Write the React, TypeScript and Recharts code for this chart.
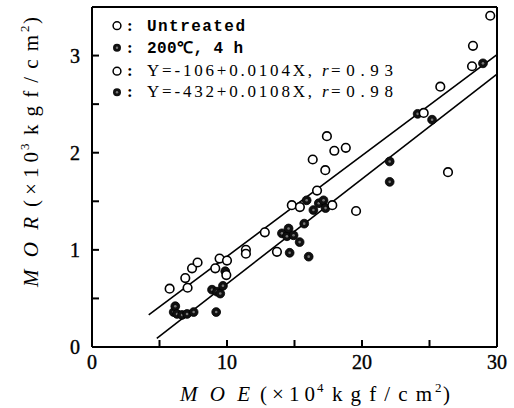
import React from 'react';
import { ScatterChart, Scatter, XAxis, YAxis, ReferenceLine } from 'recharts';

// MOE (x10^4 kgf/cm2) and MOR (x10^3 kgf/cm2)
const untreatedX = [5.75, 6.91, 7.08, 7.41, 7.82, 9.13, 9.45, 10.0, 9.95, 11.4, 11.4, 12.8, 13.7, 14.8, 15.4, 16.35, 16.67, 17.28, 17.4, 17.8, 17.95, 18.8, 19.56, 24.57, 25.8, 26.37, 28.15, 28.22, 29.5];
const untreatedY = [0.60, 0.71, 0.61, 0.81, 0.87, 0.81, 0.91, 0.89, 0.74, 1.00, 0.96, 1.18, 0.98, 1.46, 1.44, 1.93, 1.61, 1.82, 2.17, 1.46, 2.02, 2.05, 1.40, 2.41, 2.68, 1.80, 2.89, 3.10, 3.41];
const treatedX = [6.05, 6.17, 6.3, 6.67, 7.04, 7.53, 9.2, 8.89, 9.26, 9.5, 9.7, 9.87, 14.07, 14.44, 14.56, 14.93, 14.64, 15.38, 15.72, 15.9, 16.05, 16.4, 16.8, 17.15, 17.3, 22.05, 22.05, 24.12, 25.19, 28.96];
const treatedY = [0.36, 0.42, 0.34, 0.33, 0.34, 0.36, 0.36, 0.59, 0.57, 0.55, 0.63, 0.78, 1.17, 1.14, 1.22, 1.15, 0.97, 1.08, 1.27, 1.51, 0.93, 1.41, 1.48, 1.51, 1.43, 1.91, 1.70, 2.40, 2.34, 2.92];

// Regression lines (end points)
const fitUntreatedX = [4.2, 30];
const fitUntreatedY = [0.33, 3.01];
const fitTreatedX = [4.8, 30];
const fitTreatedY = [0.09, 2.81];

const xTicks = [0, 5, 10, 15, 20, 25, 30];
const yTicks = [0, 0.5, 1, 1.5, 2, 2.5, 3];
const xLabeled = [0, 10, 20, 30];
const yLabeled = [0, 1, 2, 3];

const legendNames = ['Untreated', '200\u2103, 4 h'];
const legendEqs = ['Y=-106+0.0104X,', 'Y=-432+0.0108X,'];
const legendR = ['=0.93', '=0.98'];

const toPts = (xs: number[], ys: number[]) => xs.map((x, i) => ({ x, y: ys[i] }));
const untreated = toPts(untreatedX, untreatedY);
const treated = toPts(treatedX, treatedY);
const fitU = toPts(fitUntreatedX, fitUntreatedY);
const fitT = toPts(fitTreatedX, fitTreatedY);

const serif = 'Liberation Serif';
const mono = 'Liberation Mono';

const OpenDot = (p: any) => (
  <circle cx={p.cx} cy={p.cy} r={4.3} fill="#fff" stroke="#000" strokeWidth={1.6} />
);
const FilledDot = (p: any) => (
  <g>
    <circle cx={p.cx} cy={p.cy} r={4.4} fill="#111" stroke="#000" strokeWidth={0.8} />
    <circle cx={p.cx} cy={p.cy} r={1.3} fill="#777" />
  </g>
);
const NoDot = () => <g />;

const XTick = (p: any) => {
  const v = p.payload.value;
  return (
    <g>
      <line x1={p.x} x2={p.x} y1={p.y - 8} y2={p.y - 15} stroke="#000" strokeWidth={2} />
      {xLabeled.includes(v) && (
        <text x={p.x} y={p.y} dy="0.71em" textAnchor="middle" fontFamily={serif} fontSize={20} fill="#000" stroke="#000" strokeWidth={0.4}>{v}</text>
      )}
    </g>
  );
};

const YTick = (p: any) => {
  const v = p.payload.value;
  return (
    <g>
      <line x1={p.x + 12} x2={p.x + 19} y1={p.y} y2={p.y} stroke="#000" strokeWidth={2} />
      {yLabeled.includes(v) && (
        <text x={p.x} y={p.y} dy="0.355em" textAnchor="end" fontFamily={serif} fontSize={20} fill="#000" stroke="#000" strokeWidth={0.4}>{v}</text>
      )}
    </g>
  );
};

// Title pieces laid out along the axis: [text, offset, length, italic, superscript]
const TitleParts = ({ main, sup }: { main: string; sup: string }) => {
  const parts: [string, number, number | null, boolean, boolean][] = [
    [main, 0, 70, true, false],
    ['(\u00d710', 80, 55, false, false],
    [sup, 137, null, false, true],
    ['kgf/cm', 152, 100, false, false],
    ['2', 255, null, false, true],
    [')', 263, null, false, false],
  ];
  return (
    <>
      {parts.map(([t, off, len, it, su], i) => (
        <text
          key={i}
          x={off}
          y={su ? -9 : 0}
          fontFamily={serif}
          fontSize={su ? 13 : 21}
          fontStyle={it ? 'italic' : 'normal'}
          fill="#000"
          {...(len ? { textLength: len, lengthAdjust: 'spacing' } : {})}
        >
          {t}
        </text>
      ))}
    </>
  );
};

const XTitle = (props: any) => {
  const vb = props.viewBox || { x: 92, y: 347, width: 405, height: 61 };
  const x0 = vb.x + 88;
  const y0 = vb.y + 54;
  return (
    <g transform={`translate(${x0} ${y0})`}>
      <TitleParts main="M O E" sup="4" />
    </g>
  );
};

const YTitle = (props: any) => {
  const vb = props.viewBox || { x: 0, y: 7, width: 92, height: 340 };
  const x0 = vb.x + 38;
  const y0 = vb.y + 280;
  return (
    <g transform={`translate(${x0} ${y0}) rotate(-90)`}>
      <TitleParts main="M O R" sup="3" />
    </g>
  );
};

const Legend = () => {
  const rowsY = [30.5, 52.5, 76, 97];
  return (
    <svg width={514} height={408} style={{ position: 'absolute', left: 0, top: 0, pointerEvents: 'none' }}>
      {rowsY.map((by, i) => {
        const filled = i % 2 === 1;
        const cy = by - 4.8;
        return (
          <g key={i}>
            {filled ? (
              <g>
                <circle cx={117} cy={cy} r={4} fill="#111" />
                <circle cx={117} cy={cy} r={1.2} fill="#777" />
              </g>
            ) : (
              <circle cx={117} cy={cy} r={3.9} fill="#fff" stroke="#000" strokeWidth={1.5} />
            )}
            <text x={127} y={by} fontFamily={serif} fontSize={17} fontWeight="bold" fill="#000">:</text>
          </g>
        );
      })}
      {legendNames.map((t, i) => (
        <text key={t} x={147} y={rowsY[i]} fontFamily={mono} fontWeight="bold" fontSize={16} fill="#000" textLength={i === 0 ? 98 : 96} lengthAdjust="spacing">{t}</text>
      ))}
      {legendEqs.map((t, i) => (
        <g key={t}>
          <text x={147} y={rowsY[i + 2]} fontFamily={serif} fontSize={17} fill="#000" textLength={165} lengthAdjust="spacing">{t}</text>
          <text x={322} y={rowsY[i + 2]} fontFamily={serif} fontSize={17} fontStyle="italic" fill="#000">r</text>
          <text x={331} y={rowsY[i + 2]} fontFamily={serif} fontSize={17} fill="#000" textLength={62} lengthAdjust="spacing">{legendR[i]}</text>
        </g>
      ))}
    </svg>
  );
};

export default function App() {
  return (
    <div style={{ position: 'absolute', left: 0, top: 0, width: 514, height: 408, background: '#fff' }}>
      <ScatterChart width={514} height={408} margin={{ top: 7, right: 17, bottom: 0, left: 0 }}>
        <XAxis
          type="number"
          dataKey="x"
          domain={[0, 30]}
          ticks={xTicks}
          interval={0}
          tickSize={0}
          tickMargin={8}
          tickLine={false}
          height={61}
          axisLine={{ stroke: '#000', strokeWidth: 2 }}
          tick={<XTick />}
          label={<XTitle />}
        />
        <YAxis
          type="number"
          dataKey="y"
          domain={[0, 3.5]}
          ticks={yTicks}
          interval={0}
          tickSize={0}
          tickMargin={12}
          tickLine={false}
          width={92}
          axisLine={{ stroke: '#000', strokeWidth: 2 }}
          tick={<YTick />}
          label={<YTitle />}
        />
        <ReferenceLine y={3.5} stroke="#000" strokeWidth={2} />
        <ReferenceLine x={30} stroke="#000" strokeWidth={2} />
        <Scatter data={fitU} line={{ stroke: '#000', strokeWidth: 1.6 }} shape={NoDot} isAnimationActive={false} />
        <Scatter data={fitT} line={{ stroke: '#000', strokeWidth: 1.6 }} shape={NoDot} isAnimationActive={false} />
        <Scatter data={treated} shape={FilledDot} isAnimationActive={false} />
        <Scatter data={untreated} shape={OpenDot} isAnimationActive={false} />
      </ScatterChart>
      <Legend />
    </div>
  );
}
